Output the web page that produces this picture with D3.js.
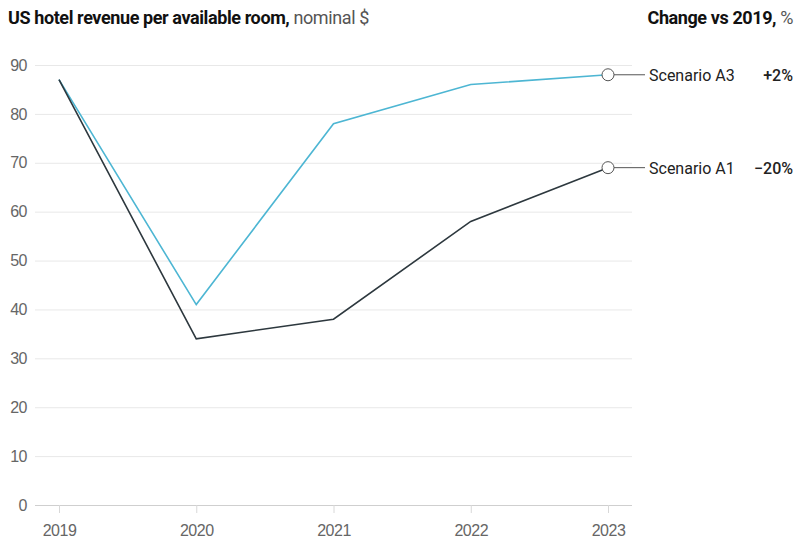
<!DOCTYPE html>
<html>
<head>
<meta charset="utf-8">
<script src="https://cdn.jsdelivr.net/npm/d3@7"></script>
<style>
  body { margin: 0; background: #fff; }
  svg { font-family: "Roboto", "Liberation Sans", sans-serif; }
</style>
</head>
<body>
<div id="chart"></div>
<script>
// data
let years = [2019, 2020, 2021, 2022, 2023]
let scenarioA3 = [87, 41, 78, 86, 88]
let scenarioA1 = [87, 34, 38, 58, 69]
let yTicks = [0, 10, 20, 30, 40, 50, 60, 70, 80, 90]
let seriesNames = ["Scenario A3", "Scenario A1"]
let changes = ["+2%", "\u221220%"]
let colors = ["#4db6d3", "#2d383e"]

let width = 795,
    height = 543

let svg = d3.select("#chart")
  .append("svg")
  .attr("width", width)
  .attr("height", height)

let x = d3.scalePoint()
  .domain(years)
  .range([59, 608])

let y = d3.scaleLinear()
  .domain([0, 90])
  .range([505, 65])

// titles
let title = svg.append("text")
  .attr("x", 8)
  .attr("y", 24)
  .style("font-size", "18px")
  .style("letter-spacing", "-0.4px")
  .style("fill", "#111")
title.append("tspan").attr("font-weight", "bold").text("US hotel revenue per available room,")
title.append("tspan").attr("fill", "#555").text(" nominal $")

let title2 = svg.append("text")
  .attr("x", 793)
  .attr("y", 24)
  .attr("text-anchor", "end")
  .style("font-size", "18px")
  .style("letter-spacing", "-0.4px")
  .style("fill", "#111")
title2.append("tspan").attr("font-weight", "bold").text("Change vs 2019,")
title2.append("tspan").attr("fill", "#555").text(" %")

// gridlines + y labels
let yAxis = svg.append("g")
  .attr("transform", "translate(35,0)")
  .call(d3.axisLeft(y).tickValues(yTicks).tickSize(-597).tickPadding(8))
yAxis.select(".domain").remove()
yAxis.selectAll(".tick line").attr("stroke", d => d === 0 ? "#cfcfcf" : "#e8e8e8")
yAxis.selectAll(".tick text")
  .style("font-size", "16px")
  .style("letter-spacing", "-0.5px")
  .style("fill", "#666")
  .style("font-family", "inherit")

// x axis
let xAxis = svg.append("g")
  .attr("transform", "translate(0,505)")
  .call(d3.axisBottom(x).tickSize(8).tickPadding(12))
xAxis.select(".domain").remove()
xAxis.selectAll(".tick line").attr("stroke", "#d8d8d8")
xAxis.selectAll(".tick text")
  .style("font-size", "16px")
  .style("letter-spacing", "-0.5px")
  .style("fill", "#666")
  .style("font-family", "inherit")

// lines
let line = d3.line()
  .x((d, i) => x(years[i]))
  .y(d => y(d))

let series = [scenarioA3, scenarioA1]

series.forEach((s, k) => {
  svg.append("path")
    .datum(s)
    .attr("d", line)
    .attr("fill", "none")
    .attr("stroke", colors[k])
    .attr("stroke-width", 1.6)

  let last = s[s.length - 1]
  let cx = x(years[years.length - 1])
  let cy = y(last)

  svg.append("line")
    .attr("x1", cx + 6)
    .attr("x2", 645)
    .attr("y1", cy)
    .attr("y2", cy)
    .attr("stroke", "#555")
    .attr("stroke-width", 1)

  svg.append("circle")
    .attr("cx", cx)
    .attr("cy", cy)
    .attr("r", 6)
    .attr("fill", "#fff")
    .attr("stroke", "#555")
    .attr("stroke-width", 1)

  svg.append("text")
    .attr("x", 649)
    .attr("y", cy + 6)
    .style("font-size", "16px")
    .style("fill", "#222")
    .text(seriesNames[k])

  svg.append("text")
    .attr("x", 793)
    .attr("y", cy + 6)
    .attr("text-anchor", "end")
    .style("font-size", "16px")
    .style("font-weight", "500")
    .style("fill", "#222")
    .text(changes[k])
})
</script>
</body>
</html>
